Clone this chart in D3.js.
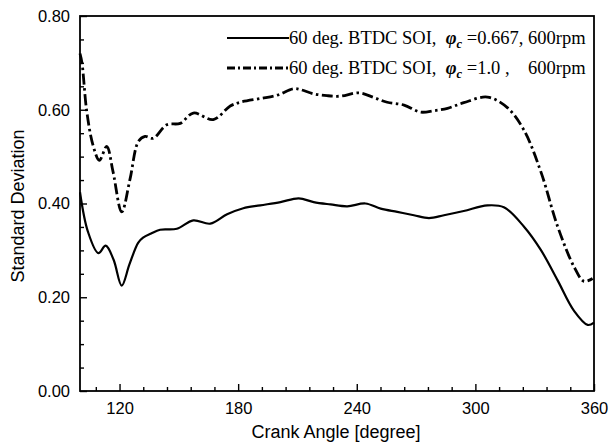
<!DOCTYPE html>
<html>
<head>
<meta charset="utf-8">
<style>
  body { margin: 0; background: #fff; }
  svg text { fill: #000; }
</style>
</head>
<body>
<div id="chart"></div>
<script src="https://cdn.jsdelivr.net/npm/d3@7"></script>
<script>
// crank angle [deg] and standard deviation
var soi667X = [100, 104, 109.3, 113, 117, 121.1, 125, 129.4, 131.9, 136, 140.5, 149, 157.3, 165.9, 174.4, 182.6, 191.2,
  201.4, 210.6, 218.2, 226.7, 235.2, 244.4, 252.1, 260.5, 268.9, 276.5, 284.1, 294.1, 306.1, 314.4, 324.5, 333.1, 341.6, 349.9, 356.8, 360];
var soi667Y = [0.424, 0.34, 0.294, 0.310, 0.28, 0.225, 0.27, 0.316, 0.327, 0.336, 0.344, 0.346, 0.364, 0.357, 0.377, 0.390, 0.396,
  0.403, 0.411, 0.403, 0.398, 0.394, 0.400, 0.389, 0.382, 0.375, 0.369, 0.375, 0.384, 0.396, 0.392, 0.351, 0.301, 0.236, 0.171, 0.141, 0.146];

var soi10X = [100, 101, 103.4, 106.6, 109.8, 113.5, 116.7, 121.1, 125.3, 129.5, 132.9, 137, 143.9, 150.7, 157.3, 167.4, 176, 181.1, 191.2,
  199.7, 208.1, 211.5, 218.2, 225, 231.8, 241.1, 248.7, 255.4, 263.9, 272.3, 279.1, 285.9, 294.1, 306.1, 316.3, 324.5, 333.1, 341.6, 349.9, 354.9, 359.3];
var soi10Y = [0.72, 0.70, 0.597, 0.524, 0.492, 0.522, 0.468, 0.382, 0.452, 0.532, 0.543, 0.539, 0.568, 0.571, 0.593, 0.579, 0.608, 0.616, 0.624,
  0.631, 0.645, 0.643, 0.634, 0.630, 0.629, 0.636, 0.626, 0.616, 0.610, 0.595, 0.598, 0.603, 0.615, 0.627, 0.604, 0.557, 0.468, 0.351, 0.265, 0.234, 0.240];

var xTicks = [120, 180, 240, 300, 360];
var yTicks = [0.00, 0.20, 0.40, 0.60, 0.80];

var W = 616, H = 444;
var mLeft = 80, mRight = 594, mTop = 16, mBottom = 391;

var svg = d3.select("#chart").append("svg").attr("width", W).attr("height", H);

var x = d3.scaleLinear().domain([100, 360]).range([mLeft, mRight]);
var y = d3.scaleLinear().domain([0, 0.8]).range([mBottom, mTop]);

// frame
svg.append("rect")
  .attr("x", mLeft).attr("y", mTop)
  .attr("width", mRight - mLeft).attr("height", mBottom - mTop)
  .attr("fill", "none").attr("stroke", "#000").attr("stroke-width", 1.8);

// minor ticks (inside)
var xMinor = d3.range(108, 360, 12).filter(function(d) { return xTicks.indexOf(d) < 0; });
var yMinor = d3.range(0.05, 0.8, 0.05).filter(function(d) { return Math.abs(d * 5 - Math.round(d * 5)) > 1e-6; });

var xAxis = d3.axisBottom(x).tickValues(xTicks).tickSize(-7).tickPadding(11).tickFormat(d3.format("d"));
var yAxis = d3.axisLeft(y).tickValues(yTicks).tickSize(-7).tickPadding(10).tickFormat(d3.format(".2f"));

svg.append("g").attr("transform", "translate(0," + mBottom + ")").call(xAxis);
svg.append("g").attr("transform", "translate(" + mLeft + ",0)").call(yAxis);

svg.append("g").attr("transform", "translate(0," + mBottom + ")")
  .call(d3.axisBottom(x).tickValues(xMinor).tickSize(-4).tickFormat(""));
svg.append("g").attr("transform", "translate(" + mLeft + ",0)")
  .call(d3.axisLeft(y).tickValues(yMinor).tickSize(-4).tickFormat(""));

svg.selectAll(".domain").remove();
svg.selectAll(".tick line").attr("stroke", "#000").attr("stroke-width", 1.4);
svg.selectAll(".tick text")
  .attr("font-family", "Liberation Sans, Arial, sans-serif")
  .attr("font-size", 16.5);

// axis titles
svg.append("text")
  .attr("x", (mLeft + mRight) / 2 - 1).attr("y", 438)
  .attr("text-anchor", "middle")
  .attr("font-family", "Liberation Sans, Arial, sans-serif")
  .attr("font-size", 18)
  .text("Crank Angle [degree]");

svg.append("text")
  .attr("transform", "translate(24,206) rotate(-90)")
  .attr("text-anchor", "middle")
  .attr("font-family", "Liberation Sans, Arial, sans-serif")
  .attr("font-size", 18)
  .text("Standard Deviation");

// curves
var line = d3.line().curve(d3.curveCatmullRom.alpha(0.5))
  .x(function(d) { return x(d[0]); })
  .y(function(d) { return y(d[1]); });

svg.append("path")
  .datum(d3.zip(soi667X, soi667Y))
  .attr("d", line)
  .attr("fill", "none").attr("stroke", "#000").attr("stroke-width", 2.2);

svg.append("path")
  .datum(d3.zip(soi10X, soi10Y))
  .attr("d", line)
  .attr("fill", "none").attr("stroke", "#000").attr("stroke-width", 2.8)
  .attr("stroke-dasharray", "11,3.5,2.5,3.5");

// legend
var legend = [
  { dash: null, w: 2.2, pre: "60 deg. BTDC SOI,  ", post: " =0.667, 600rpm", y: 38 },
  { dash: "8,3,2,3", w: 2.8, pre: "60 deg. BTDC SOI,  ", post: " =1.0 ,    600rpm", y: 68 }
];

var lg = svg.append("g");
legend.forEach(function(d) {
  lg.append("line")
    .attr("x1", 227).attr("x2", 289).attr("y1", d.y).attr("y2", d.y)
    .attr("stroke", "#000").attr("stroke-width", d.w)
    .attr("stroke-dasharray", d.dash);
  var t = lg.append("text")
    .attr("x", 289).attr("y", d.y + 6)
    .attr("font-family", "Liberation Serif, Times New Roman, serif")
    .attr("font-size", 18.5)
    .style("white-space", "pre");
  t.append("tspan").text(d.pre);
  t.append("tspan").attr("font-style", "italic").attr("font-weight", "bold").text("\u03c6");
  t.append("tspan").attr("font-style", "italic").attr("font-weight", "bold")
    .attr("font-size", 12.5).attr("dy", 4).text("c");
  t.append("tspan").attr("dy", -4).text(d.post);
});
</script>
</body>
</html>
